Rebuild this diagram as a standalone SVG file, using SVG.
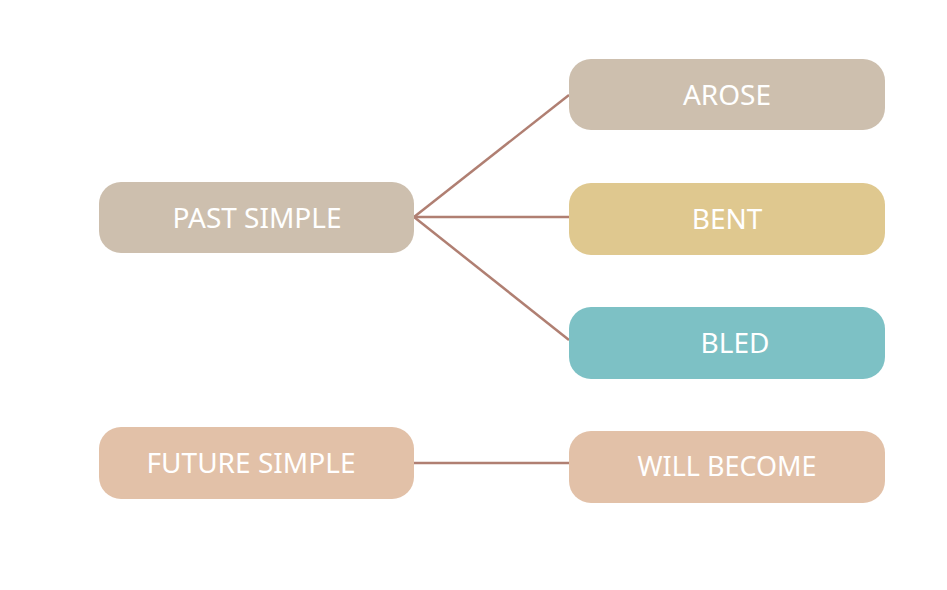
<svg xmlns="http://www.w3.org/2000/svg" width="947" height="590" viewBox="0 0 947 590">
<style>
.n text{font-family:"Noto Sans","Liberation Sans",sans-serif;font-size:28px;fill:#fff;text-anchor:middle;dominant-baseline:central}
.c line{stroke:#b07f72;stroke-width:2.5}
</style>
<rect width="947" height="590" fill="#fff"/>
<g class="c">
<line x1="414" y1="217" x2="569" y2="95"/>
<line x1="414" y1="217" x2="569" y2="217"/>
<line x1="414" y1="217" x2="569" y2="340"/>
<line x1="414" y1="463" x2="569" y2="463"/>
</g>
<g id="past" class="n"><rect x="99" y="182" width="315" height="71" rx="22" fill="#cdbfae"/><text x="257" y="217">PAST SIMPLE</text></g>
<g id="arose" class="n"><rect x="569" y="59" width="316" height="71" rx="22" fill="#cdbfae"/><text x="727" y="94">AROSE</text></g>
<g id="bent" class="n"><rect x="569" y="183" width="316" height="72" rx="22" fill="#dfc88f"/><text x="727" y="218">BENT</text></g>
<g id="bled" class="n"><rect x="569" y="307" width="316" height="72" rx="22" fill="#7dc1c5"/><text x="735" y="342">BLED</text></g>
<g id="future" class="n"><rect x="99" y="427" width="315" height="72" rx="22" fill="#e2c1a8"/><text x="251" y="462" textLength="209" lengthAdjust="spacingAndGlyphs">FUTURE SIMPLE</text></g>
<g id="will" class="n"><rect x="569" y="431" width="316" height="72" rx="22" fill="#e2c1a8"/><text x="727" y="465" textLength="179" lengthAdjust="spacingAndGlyphs">WILL BECOME</text></g>
</svg>
